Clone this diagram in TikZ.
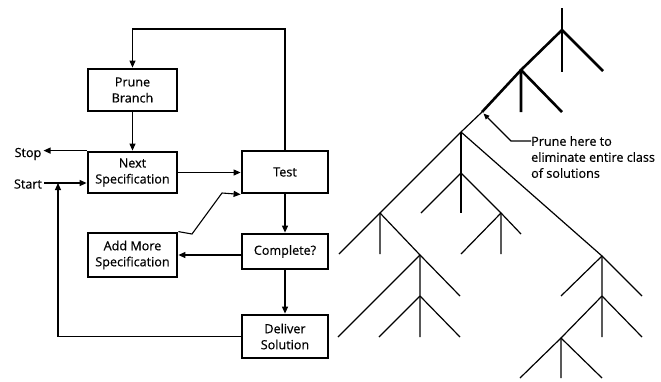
\documentclass[tikz,border=0pt]{standalone}
\usepackage{fontspec}
\setmainfont{Open Sans}[FakeBold=0.5]
\usetikzlibrary{arrows.meta}
\begin{document}
\begin{tikzpicture}[x=1pt,y=-1pt,
  stepbox/.style={draw,line width=2.8pt,align=center,inner sep=0pt,
    font=\fontsize{12.6}{16}\selectfont},
  flow/.style={line width=1.1pt,-{Triangle[length=7pt,width=6pt]}},
  label/.style={font=\fontsize{12.6}{16}\selectfont,inner sep=2pt},
  heavy/.style={line width=2.6pt},
  thin/.style={line width=1.2pt},
]
\useasboundingbox (0,0) rectangle (661,381);

% ---------- flowchart ----------
\node[stepbox,minimum width=89,minimum height=42] (prune)    at (132.5,90)  {Prune\\Branch};
\node[stepbox,minimum width=89,minimum height=41] (next)     at (132.5,172.5) {Next\\Specification};
\node[stepbox,minimum width=86,minimum height=42] (test)     at (285,172)   {Test};
\node[stepbox,minimum width=89,minimum height=44] (add)      at (132.5,255) {Add More\\Specification};
\node[stepbox,minimum width=86,minimum height=35] (complete) at (285,251.5) {Complete?};
\node[stepbox,minimum width=86,minimum height=43] (deliver)  at (285,336.5) {Deliver\\Solution};

\node[label] (stop)  at (28,154) {Stop};
\node[label] (start) at (28,184) {Start};

\coordinate (loop) at (132.5,29);
\coordinate (ret)  at (58,183);
\coordinate (kink1) at (192,234);
\coordinate (kink2) at (222,193);

\draw[flow] (test.north) |- (loop) -- (prune.north);
\draw[flow] (prune.south) -- (next.north);
\draw[flow] (next.north west) -- (stop.east |- next.north west);
\draw[flow] (start.east |- ret) -- (next.west |- ret);
\draw[flow] (deliver.west) -| (ret);
\draw[flow] (next.east) -- (test.west |- next.east);
\draw[flow] (add.north east) -- (kink1) -- (kink2) -- (test.south west);
\draw[flow] (test.south) -- (complete.north);
\draw[flow] (complete.west |- add.east) -- (add.east);
\draw[flow] (complete.south) -- (deliver.north);

% ---------- search tree ----------
\coordinate (A) at (562,30);
\coordinate (B) at (521,70);
\coordinate (P) at (482,112);
\coordinate (C) at (461,132);
\coordinate (D) at (461,173);
\coordinate (E) at (501,213);
\coordinate (F) at (380,213);
\coordinate (G) at (602,256);
\coordinate (H) at (420,255);
\coordinate (I) at (420,296);
\coordinate (J) at (602,296);
\coordinate (K) at (561,338);

\draw[heavy] (562,8) -- (A) -- (562,72);
\draw[heavy] (A) -- (603,71);
\draw[heavy] (A) -- (B) -- (521,112);
\draw[heavy] (B) -- (562,112);
\draw[heavy] (B) -- (P);
\draw[thin] (P) -- (C);

\draw[thin] (C) -- (461,213);
\draw[thin] (D) -- (421,213);
\draw[thin] (D) -- (E) -- (501,254);
\draw[thin] (E) -- (461,254);
\draw[thin] (E) -- (521,234);

\draw[thin] (C) -- (F) -- (380,254);
\draw[thin] (F) -- (339,254);
\draw[thin] (F) -- (H) -- (420,337);
\draw[thin] (H) -- (338,337);
\draw[thin] (H) -- (460,296);
\draw[thin] (I) -- (379,337);
\draw[thin] (I) -- (460,337);

\draw[thin] (C) -- (G) -- (602,337);
\draw[thin] (G) -- (561,296);
\draw[thin] (G) -- (642,296);
\draw[thin] (J) -- (K) -- (561,378);
\draw[thin] (J) -- (642,337);
\draw[thin] (K) -- (520,378);
\draw[thin] (K) -- (602,378);

% pointer to the pruning point
\node[label,align=left,anchor=north west,inner sep=0pt] (note) at (531,136)
  {Prune here to\\eliminate entire class\\of solutions};
\coordinate (elbow) at (511,141);
\draw[line width=1.1pt,-{Triangle[length=6pt,width=5pt]}]
  (note.west |- elbow) -- (elbow) -- ([shift={(1.5,1.5)}]P);
\end{tikzpicture}
\end{document}
